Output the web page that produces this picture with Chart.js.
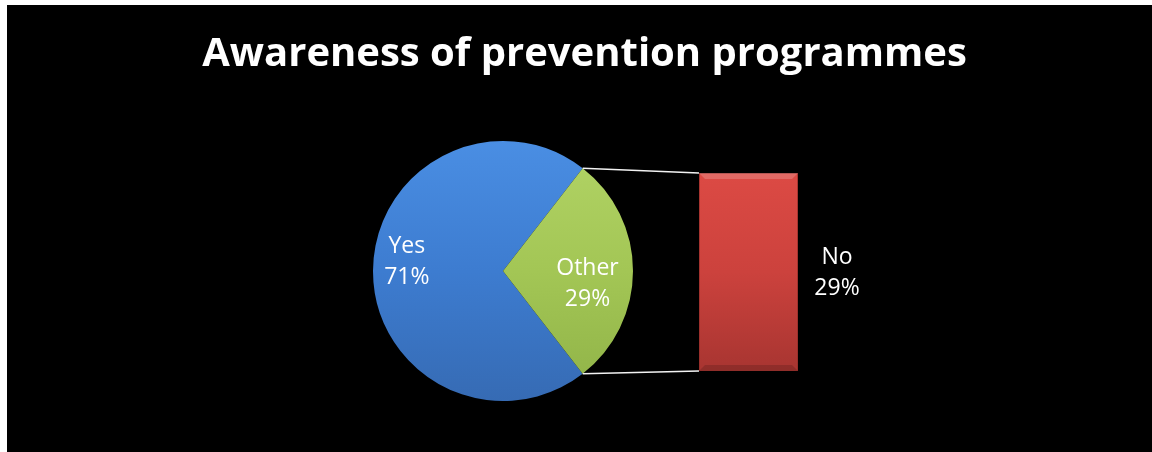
<!DOCTYPE html>
<html>
<head>
<meta charset="utf-8">
<script src="https://cdn.jsdelivr.net/npm/chart.js@4/dist/chart.umd.min.js"></script>
<style>
  html, body { margin: 0; padding: 0; background: #fff; }
  #frame { position: absolute; left: 7px; top: 5px; width: 1145px; height: 447px; background: #000; }
  #frame canvas { position: absolute; left: 0; top: 0; }
</style>
</head>
<body>
<div id="frame">
  <canvas id="pie-chart" width="1145" height="447"></canvas>
  <canvas id="bar-chart" width="1145" height="447"></canvas>
</div>
<script>
// data
const pieLabels = ['Yes', 'Other'];
const pieValues = [71, 29];
const barLabels = ['No'];
const barValues = [29];
const chartTitle = 'Awareness of prevention programmes';

const FONT = '"Open Sans", "DejaVu Sans", sans-serif';

// where each slice label sits (fraction of radius, extra vertical shift)
const pieLabelPlace = { Yes: { r: 0.74, dy: -10 }, Other: { r: 0.65, dy: 12 } };

// the "Other" slice is centred on the right, facing the bar
const otherShare = pieValues[1] / pieValues.reduce((a, b) => a + b, 0);
const pieRotation = 90 + otherShare * 180;

function pieFill(context) {
  const chart = context.chart;
  const area = chart.chartArea;
  if (!area) return null;
  const g = chart.ctx.createLinearGradient(0, area.top, 0, area.bottom);
  if (context.dataIndex === 0) {
    g.addColorStop(0, '#4a8ee3');
    g.addColorStop(0.5, '#3d7cd0');
    g.addColorStop(1, '#366bb4');
  } else {
    g.addColorStop(0, '#b2d466');
    g.addColorStop(0.5, '#a3c655');
    g.addColorStop(1, '#8fb247');
  }
  return g;
}

// title spans the whole frame, so it is drawn here rather than inside the padded box
const frameTitle = {
  id: 'frameTitle',
  afterDraw(chart) {
    const ctx = chart.ctx;
    ctx.save();
    ctx.fillStyle = '#fff';
    ctx.font = 'bold 40px ' + FONT;
    ctx.textAlign = 'center';
    ctx.textBaseline = 'middle';
    ctx.fillText(chartTitle, chart.width / 2 + 5, 50);
    ctx.restore();
  }
};

const sliceLabels = {
  id: 'sliceLabels',
  afterDatasetsDraw(chart) {
    const ctx = chart.ctx;
    const meta = chart.getDatasetMeta(0);
    const total = pieValues.reduce((a, b) => a + b, 0);
    ctx.save();
    ctx.fillStyle = '#fff';
    ctx.font = '23px ' + FONT;
    ctx.textAlign = 'center';
    ctx.textBaseline = 'middle';
    meta.data.forEach((arc, i) => {
      const p = pieLabelPlace[pieLabels[i]];
      const mid = (arc.startAngle + arc.endAngle) / 2;
      const x = arc.x + Math.cos(mid) * arc.outerRadius * p.r;
      const y = arc.y + Math.sin(mid) * arc.outerRadius * p.r + p.dy;
      ctx.fillText(pieLabels[i], x, y - 15);
      ctx.fillText(Math.round(pieValues[i] / total * 100) + '%', x, y + 16);
    });
    ctx.restore();
  }
};

const pieChart = new Chart(document.getElementById('pie-chart'), {
  type: 'pie',
  data: {
    labels: pieLabels,
    datasets: [{
      data: pieValues,
      backgroundColor: pieFill,
      borderWidth: 0
    }]
  },
  options: {
    responsive: false,
    animation: false,
    rotation: pieRotation,
    layout: { padding: { left: 366, right: 519, top: 136, bottom: 51 } },
    plugins: {
      legend: { display: false },
      tooltip: { enabled: false },
      title: { display: false }
    }
  },
  plugins: [sliceLabels, frameTitle]
});

function barFill(context) {
  const chart = context.chart;
  const area = chart.chartArea;
  if (!area) return null;
  const g = chart.ctx.createLinearGradient(0, area.top, 0, area.bottom);
  g.addColorStop(0, '#dc4a44');
  g.addColorStop(0.5, '#cc423d');
  g.addColorStop(1, '#a83531');
  return g;
}

// connector lines from the "Other" slice to the bar, plus the bar label
const barExtras = {
  id: 'barExtras',
  afterDatasetsDraw(chart) {
    const ctx = chart.ctx;
    const arc = pieChart.getDatasetMeta(0).data[1];
    const bar = chart.getDatasetMeta(0).data[0];
    const left = bar.x - bar.width / 2;
    const right = bar.x + bar.width / 2;
    ctx.save();
    ctx.strokeStyle = '#f2f2f2';
    ctx.lineWidth = 1.5;
    ctx.beginPath();
    ctx.moveTo(arc.x + Math.cos(arc.startAngle) * arc.outerRadius, arc.y + Math.sin(arc.startAngle) * arc.outerRadius);
    ctx.lineTo(left, bar.y);
    ctx.moveTo(arc.x + Math.cos(arc.endAngle) * arc.outerRadius, arc.y + Math.sin(arc.endAngle) * arc.outerRadius);
    ctx.lineTo(left, bar.base);
    ctx.stroke();

    // light bevel on the top edge, shade on the bottom
    const bev = 6;
    ctx.fillStyle = 'rgba(255,255,255,0.18)';
    ctx.beginPath();
    ctx.moveTo(left, bar.y);
    ctx.lineTo(right, bar.y);
    ctx.lineTo(right - bev, bar.y + bev);
    ctx.lineTo(left + bev, bar.y + bev);
    ctx.closePath();
    ctx.fill();
    ctx.fillStyle = 'rgba(0,0,0,0.15)';
    ctx.beginPath();
    ctx.moveTo(left, bar.base);
    ctx.lineTo(right, bar.base);
    ctx.lineTo(right - bev, bar.base - bev);
    ctx.lineTo(left + bev, bar.base - bev);
    ctx.closePath();
    ctx.fill();

    ctx.fillStyle = '#fff';
    ctx.font = '23px ' + FONT;
    ctx.textAlign = 'center';
    ctx.textBaseline = 'middle';
    const cx = right + 39;
    const cy = (bar.y + bar.base) / 2;
    barLabels.forEach((lab, i) => {
      ctx.fillText(lab, cx, cy - 15);
      ctx.fillText(barValues[i] + '%', cx, cy + 16);
    });
    ctx.restore();
  }
};

new Chart(document.getElementById('bar-chart'), {
  type: 'bar',
  data: {
    labels: barLabels,
    datasets: [{
      data: barValues,
      backgroundColor: barFill,
      borderColor: '#8e2b27',
      borderWidth: 1,
      barPercentage: 1,
      categoryPercentage: 1
    }]
  },
  options: {
    responsive: false,
    animation: false,
    layout: { padding: { left: 692, right: 354, top: 168, bottom: 81 } },
    scales: {
      x: { display: false },
      y: { display: false, min: 0, max: barValues.reduce((a, b) => a + b, 0) }
    },
    plugins: {
      legend: { display: false },
      tooltip: { enabled: false }
    }
  },
  plugins: [barExtras]
});
</script>
</body>
</html>
